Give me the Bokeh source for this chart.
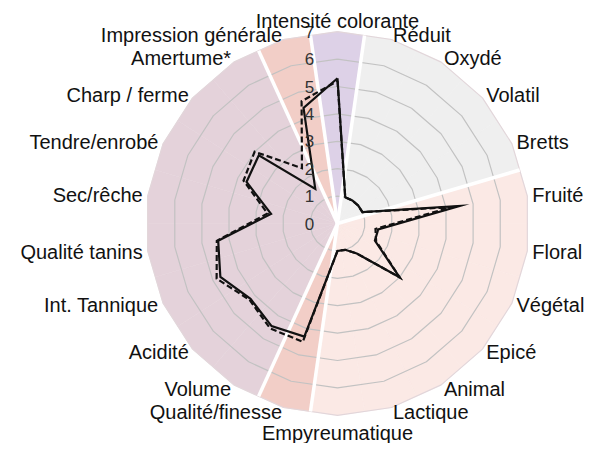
import numpy as np
from bokeh.plotting import figure
from bokeh.models import ColumnDataSource, Range1d
from bokeh.embed import file_html
from bokeh.resources import INLINE
from bokeh.core.properties import value

# ---------------- data ----------------
categories = ["Intensité colorante", "Réduit", "Oxydé", "Volatil", "Bretts",
              "Fruité", "Floral", "Végétal", "Epicé", "Animal", "Lactique",
              "Empyreumatique", "Qualité/finesse", "Volume", "Acidité",
              "Int. Tannique", "Qualité tanins", "Sec/rêche", "Tendre/enrobé",
              "Charp / ferme", "Amertume*", "Impression générale"]
serie_1 = [5.3, 1.0, 1.0, 1.0, 1.0, 4.5, 1.5, 1.5, 3.0, 1.3, 1.0,
           1.0, 4.3, 4.45, 4.2, 4.7, 4.4, 2.45, 3.65, 3.8, 1.5, 4.4]
serie_2 = [5.2, 1.0, 1.0, 1.0, 1.0, 4.2, 1.4, 1.55, 3.0, 1.3, 1.0,
           1.0, 4.5, 4.55, 4.25, 4.85, 4.45, 2.58, 3.77, 4.0, 2.4, 4.65]
groups = (["Couleur"] + ["Défauts"] * 4 + ["Nez"] * 7 + ["Qualité"]
          + ["Bouche"] * 8 + ["Global"])
tick_values = [0, 1, 2, 3, 4, 5, 6, 7]
group_colors = {"Couleur": "#ddd1e7", "Défauts": "#efefef", "Nez": "#fbe9e5",
                "Qualité": "#f2cec7", "Bouche": "#e4d2da", "Global": "#f2cec7"}

# ---------------- layout ----------------
W, H = 590, 443
S = 27.4           # pixels per unit
CX, CY = 337.0, 223.0
RMAX = 7.0
FONT = "Liberation Sans"

N = len(categories)
step = 2 * np.pi / N
theta = np.pi / 2 - np.arange(N) * step
half = step / 2

p = figure(width=W, height=H, output_backend="svg", toolbar_location=None,
           x_range=Range1d(-CX / S, (W - CX) / S),
           y_range=Range1d(-(H - CY) / S, CY / S),
           min_border=0, border_fill_color="white", background_fill_color="white")
p.axis.visible = False
p.grid.visible = False
p.outline_line_color = None

# sectors (polygonal, one per axis)
rb = RMAX * np.cos(half)
sx, sy, sc = [], [], []
for i in range(N):
    a0, a1 = theta[i] + half, theta[i] - half
    sx.append([0, rb * np.cos(a0), RMAX * np.cos(theta[i]), rb * np.cos(a1)])
    sy.append([0, rb * np.sin(a0), RMAX * np.sin(theta[i]), rb * np.sin(a1)])
    sc.append(group_colors[groups[i]])
p.patches(sx, sy, fill_color=sc, line_color=sc, line_width=0.5)

# rings
ang = np.append(theta, theta[0])
for k in tick_values[1:]:
    col = "#c2c2c2" if k < 7 else "#e2d6da"
    p.line(k * np.cos(ang), k * np.sin(ang), line_color=col, line_width=1.2)

# white separators between groups
x0, y0, x1, y1 = [], [], [], []
for i in range(N):
    j = (i + 1) % N
    if groups[i] != groups[j]:
        a = theta[i] - half
        x0.append(0); y0.append(0)
        x1.append(rb * np.cos(a)); y1.append(rb * np.sin(a))
p.segment(x0, y0, x1, y1, line_color="white", line_width=3.5)

# series
def closed(vals):
    v = np.array(vals + [vals[0]])
    return v * np.cos(ang), v * np.sin(ang)

xs1, ys1 = closed(serie_1)
xs2, ys2 = closed(serie_2)
p.line(xs1, ys1, line_color="#111111", line_width=2.2, line_join="miter")
p.line(xs2, ys2, line_color="#111111", line_width=2.2, line_dash="6 3", line_join="miter")

# tick labels
p.text(x=[-28.0 / S] * len(tick_values), y=tick_values,
       text=[str(t) for t in tick_values],
       text_font=value(FONT), text_font_size="17px", text_color="#333333",
       text_align="center", text_baseline="middle")

# category labels
RL = RMAX + 5.0 / S
R_TOP = RMAX + 11.0 / S
R_BOT = (432.0 - CY) / S
lx, ly, al, bl = [], [], [], []
for i in range(N):
    c, s = np.cos(theta[i]), np.sin(theta[i])
    if abs(c) < 1e-6:
        al.append("center")
        bl.append("alphabetic")
        r = R_TOP if s > 0 else R_BOT
    else:
        al.append("left" if c > 0 else "right")
        bl.append("middle")
        r = RL
    lx.append(r * c); ly.append(r * s)
src = ColumnDataSource(dict(x=lx, y=ly, t=categories, a=al, b=bl))
p.text(x="x", y="y", text="t", source=src, text_align="a", text_baseline="b",
       text_font=value(FONT), text_font_size="20px", text_color="#111111")

open("out.html", "w").write(file_html(p, INLINE))
